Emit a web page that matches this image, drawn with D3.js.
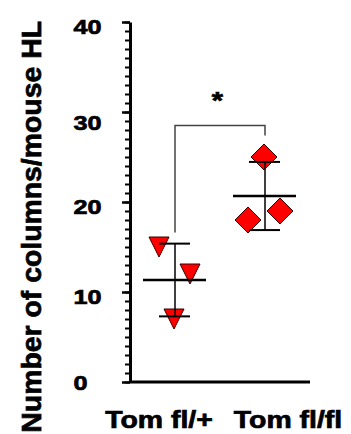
<!DOCTYPE html>
<html>
<head>
<meta charset="utf-8">
<script src="https://cdn.jsdelivr.net/npm/d3@7"></script>
<style>
  body { margin: 0; background: #fff; }
  text { font-family: Arial, "Liberation Sans", sans-serif; font-weight: bold; fill: #000; stroke: #000; stroke-width: 0.7; }
</style>
</head>
<body>
<div id="chart"></div>
<script>
// data
var groups = ["Tom fl/+", "Tom fl/fl"];
var flPlus = [15, 12, 7];
var flFl = [25, 18, 19];
// horizontal jitter of each point (px) as drawn in the figure
var flPlusJitter = [-16, 15, -1];
var flFlJitter = [-1, -17, 15];
var yTicks = [0, 10, 20, 30, 40];
var yLabel = "Number of columns/mouse HL";
var sigLabel = "*";

var width = 351, height = 434;

const svg = d3
  .select("#chart")
  .append("svg")
  .attr("width", width)
  .attr("height", height);

const y = d3.scaleLinear().domain([0, 40]).range([382, 22]);
const x = d3.scalePoint().domain(groups).range([130, 310]).padding(0.5);

// y axis: minor ticks every 1, major every 10
svg.append("g")
  .attr("transform", "translate(130,0)")
  .call(d3.axisLeft(y).ticks(40).tickSize(5).tickSizeOuter(0).tickFormat(""))
  .call(g => g.select(".domain").remove())
  .call(g => g.selectAll("line").attr("stroke-width", 2));

svg.append("g")
  .attr("transform", "translate(130,0)")
  .call(d3.axisLeft(y).tickValues(yTicks).tickSize(8).tickSizeOuter(0).tickFormat(""))
  .call(g => g.select(".domain").attr("stroke-width", 3))
  .call(g => g.selectAll("line").attr("stroke-width", 2.5));

// x axis baseline
svg.append("line")
  .attr("x1", x.range()[0]).attr("x2", x.range()[1])
  .attr("y1", y(0)).attr("y2", y(0))
  .attr("stroke", "#000").attr("stroke-width", 3);

// tick labels (left aligned, wide bold face)
var sx = 1.2;
var tickNudge = { 0: 0, 10: 4, 20: 4, 30: 10, 40: 4 };
svg.selectAll(".ylab")
  .data(yTicks)
  .enter()
  .append("text")
  .attr("class", "ylab")
  .attr("transform", d => `translate(73.5,${y(d) + tickNudge[d] + 7.5}) scale(${sx},1)`)
  .attr("font-size", 21)
  .text(d => d);

// y title
svg.append("text")
  .attr("transform", `translate(41,${(20.7 + 433) / 2}) rotate(-90)`)
  .attr("text-anchor", "middle")
  .attr("font-size", 28.4)
  .text(yLabel);

// group labels
var labelShift = [-16, 23];
svg.selectAll(".xlab")
  .data(groups)
  .enter()
  .append("text")
  .attr("class", "xlab")
  .attr("transform", (d, i) => `translate(${x(d) + labelShift[i]},427.7) scale(1.22,1)`)
  .attr("text-anchor", "middle")
  .attr("font-size", 23.3)
  .text(d => d);

// significance bracket
var x1 = x(groups[0]), x2 = x(groups[1]);
svg.append("path")
  .attr("d", `M${x1},${y(16.6)} V${y(28.5)} H${x2} V${y(27.4)}`)
  .attr("fill", "none")
  .attr("stroke", "#444")
  .attr("stroke-width", 1.5);
svg.append("text")
  .attr("transform", `translate(${(x1 + x2) / 2 - 8.3},109) scale(1.2,1)`)
  .attr("font-size", 24)
  .text(sigLabel);

// points
const tri = "M-10,-10 L10,-10 L0,10 Z";
const dia = "M0,-13 L13,0 L0,13 L-13,0 Z";

svg.selectAll(".p1")
  .data(flPlus)
  .enter()
  .append("path")
  .attr("d", tri)
  .attr("transform", (d, i) => `translate(${x(groups[0]) + flPlusJitter[i]},${y(d)})`)
  .attr("fill", "#ff0000")
  .attr("stroke", "#3a0000")
  .attr("stroke-width", 1);

svg.selectAll(".p2")
  .data(flFl)
  .enter()
  .append("path")
  .attr("d", dia)
  .attr("transform", (d, i) => `translate(${x(groups[1]) + flFlJitter[i]},${y(d)})`)
  .attr("fill", "#ff0000")
  .attr("stroke", "#3a0000")
  .attr("stroke-width", 1);

// mean and SD
[flPlus, flFl].forEach(function (vals, i) {
  var cx = x(groups[i]);
  var m = d3.mean(vals), s = d3.deviation(vals);
  var g = svg.append("g").attr("stroke", "#000");
  g.append("line")
    .attr("x1", cx).attr("x2", cx)
    .attr("y1", y(m + s)).attr("y2", y(m - s))
    .attr("stroke-width", 1.5);
  [m + s, m - s].forEach(function (v) {
    g.append("line")
      .attr("x1", cx - 16).attr("x2", cx + 15)
      .attr("y1", y(v)).attr("y2", y(v))
      .attr("stroke-width", 2);
  });
  g.append("line")
    .attr("x1", cx - 32).attr("x2", cx + 31)
    .attr("y1", y(m)).attr("y2", y(m))
    .attr("stroke-width", 2.5);
});
</script>
</body>
</html>
